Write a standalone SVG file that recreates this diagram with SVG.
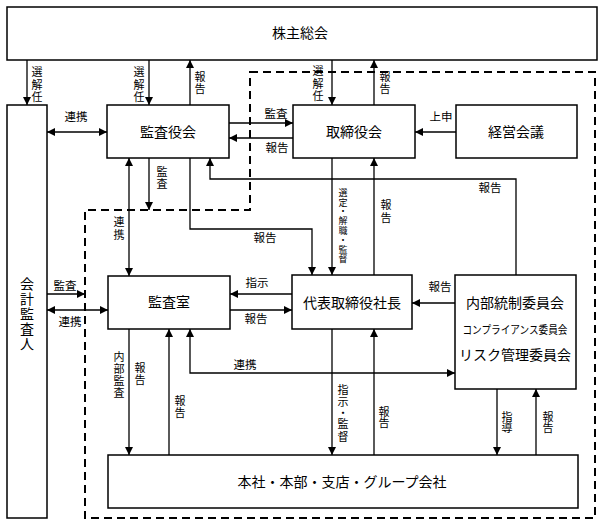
<svg xmlns="http://www.w3.org/2000/svg" width="603" height="525" viewBox="0 0 603 525">
<style>
.box{fill:#fff;stroke:#000;stroke-width:1.5}
.ln{fill:none;stroke:#000;stroke-width:1.3}
.t{font-family:"Liberation Serif","Noto Sans CJK JP",serif;fill:#000}
.bt{font-size:14px;text-anchor:middle}
.lb{font-size:11.5px;text-anchor:middle}
.vt{font-size:11px;text-anchor:middle}
</style>
<defs>
<marker id="ah" viewBox="0 0 10 10" refX="10" refY="5" markerWidth="8" markerHeight="8" markerUnits="userSpaceOnUse" orient="auto-start-reverse">
<path d="M0,0 L10,5 L0,10 z" fill="#000"/>
</marker>
</defs>
<rect width="603" height="525" fill="#fff"/>
<path d="M250,72 H595 V518 H85 V210 H250 Z" fill="none" stroke="#000" stroke-width="2" stroke-dasharray="8,5"/>

<g id="shareholders"><rect class="box" x="7" y="7" width="590" height="53"/><text class="t bt" x="300" y="38">株主総会</text></g>
<g id="auditor"><rect class="box" x="7" y="105" width="40" height="413"/>
<text class="t bt"><tspan x="27" y="289">会</tspan><tspan x="27" y="304">計</tspan><tspan x="27" y="319">監</tspan><tspan x="27" y="334">査</tspan><tspan x="27" y="349">人</tspan></text></g>
<g id="kansayakukai"><rect class="box" x="107" y="105" width="122" height="53"/><text class="t bt" x="168" y="137">監査役会</text></g>
<g id="torishimariyakukai"><rect class="box" x="293" y="105" width="122" height="53"/><text class="t bt" x="354" y="137">取締役会</text></g>
<g id="keieikaigi"><rect class="box" x="456" y="105" width="121" height="53"/><text class="t bt" x="516" y="137">経営会議</text></g>
<g id="kansashitsu"><rect class="box" x="108" y="276" width="122" height="53"/><text class="t bt" x="169" y="307">監査室</text></g>
<g id="president"><rect class="box" x="292" y="275" width="120" height="54"/><text class="t bt" x="352" y="308">代表取締役社長</text></g>
<g id="committees"><rect class="box" x="455" y="275" width="121" height="114"/>
<text class="t bt" x="515" y="308">内部統制委員会</text>
<text class="t" x="515" y="334" font-size="11" text-anchor="middle" textLength="105" lengthAdjust="spacingAndGlyphs">コンプライアンス委員会</text>
<text class="t bt" x="515" y="360">リスク管理委員会</text></g>
<g id="group"><rect class="box" x="108" y="455" width="470" height="53"/><text class="t bt" x="342" y="487">本社・本部・支店・グループ会社</text></g>

<g id="connectors">
<path class="ln" d="M27,60 V105" marker-end="url(#ah)"/>
<path class="ln" d="M149,60 V105" marker-end="url(#ah)"/>
<path class="ln" d="M190,105 V60" marker-end="url(#ah)"/>
<path class="ln" d="M332,60 V105" marker-end="url(#ah)"/>
<path class="ln" d="M374,105 V60" marker-end="url(#ah)"/>
<path class="ln" d="M47,132 H107" marker-start="url(#ah)" marker-end="url(#ah)"/>
<path class="ln" d="M229,123 H293" marker-end="url(#ah)"/>
<path class="ln" d="M293,138 H229" marker-end="url(#ah)"/>
<path class="ln" d="M456,132 H415" marker-end="url(#ah)"/>
<path class="ln" d="M129,158 V276" marker-start="url(#ah)" marker-end="url(#ah)"/>
<path class="ln" d="M149,158 V210" marker-end="url(#ah)"/>
<path class="ln" d="M190,158 V229 H312 V275" marker-end="url(#ah)"/>
<path class="ln" d="M516,275 V179 H210 V158" marker-end="url(#ah)"/>
<path class="ln" d="M332,158 V275" marker-end="url(#ah)"/>
<path class="ln" d="M374,275 V158" marker-end="url(#ah)"/>
<path class="ln" d="M292,294 H230" marker-end="url(#ah)"/>
<path class="ln" d="M230,310 H292" marker-end="url(#ah)"/>
<path class="ln" d="M455,303 H412" marker-end="url(#ah)"/>
<path class="ln" d="M47,294 H85" marker-end="url(#ah)"/>
<path class="ln" d="M47,310 H108" marker-start="url(#ah)" marker-end="url(#ah)"/>
<path class="ln" d="M129,329 V455" marker-end="url(#ah)"/>
<path class="ln" d="M169,455 V329" marker-end="url(#ah)"/>
<path class="ln" d="M455,373 H190 V329" marker-start="url(#ah)" marker-end="url(#ah)"/>
<path class="ln" d="M332,329 V455" marker-end="url(#ah)"/>
<path class="ln" d="M374,455 V329" marker-end="url(#ah)"/>
<path class="ln" d="M497,389 V455" marker-end="url(#ah)"/>
<path class="ln" d="M536,455 V389" marker-end="url(#ah)"/>
</g>

<g id="labels" class="t">
<text class="vt"><tspan x="37" y="76">選</tspan><tspan x="37" y="88.5">解</tspan><tspan x="37" y="101">任</tspan></text>
<text class="vt"><tspan x="139" y="76">選</tspan><tspan x="139" y="88.5">解</tspan><tspan x="139" y="101">任</tspan></text>
<text class="vt"><tspan x="200" y="81">報</tspan><tspan x="200" y="93">告</tspan></text>
<text class="vt"><tspan x="318" y="75">選</tspan><tspan x="318" y="87.5">解</tspan><tspan x="318" y="100">任</tspan></text>
<text class="vt"><tspan x="385" y="81">報</tspan><tspan x="385" y="93">告</tspan></text>
<text class="lb" x="76" y="121">連携</text>
<text class="lb" x="276" y="118">監査</text>
<text class="lb" x="277" y="152">報告</text>
<text class="lb" x="441" y="121">上申</text>
<text class="vt"><tspan x="162" y="176">監</tspan><tspan x="162" y="188">査</tspan></text>
<text class="vt"><tspan x="119" y="226">連</tspan><tspan x="119" y="239">携</tspan></text>
<text class="lb" x="265" y="242">報告</text>
<text class="lb" x="490" y="192">報告</text>
<text font-size="9" text-anchor="middle"><tspan x="343" y="196">選</tspan><tspan x="343" y="205.5">定</tspan><tspan x="343" y="214">・</tspan><tspan x="343" y="224">解</tspan><tspan x="343" y="233.5">職</tspan><tspan x="343" y="243">・</tspan><tspan x="343" y="252.5">監</tspan><tspan x="343" y="262">督</tspan></text>
<text class="vt"><tspan x="386" y="209">報</tspan><tspan x="386" y="222">告</tspan></text>
<text class="lb" x="257" y="287">指示</text>
<text class="lb" x="256" y="323">報告</text>
<text class="lb" x="440" y="291">報告</text>
<text class="lb" x="65" y="290">監査</text>
<text class="lb" x="70" y="326">連携</text>
<text class="vt"><tspan x="119" y="361">内</tspan><tspan x="119" y="373">部</tspan><tspan x="119" y="385">監</tspan><tspan x="119" y="397">査</tspan></text>
<text class="vt"><tspan x="140" y="372">報</tspan><tspan x="140" y="384">告</tspan></text>
<text class="vt"><tspan x="180" y="405">報</tspan><tspan x="180" y="417">告</tspan></text>
<text class="lb" x="245" y="369">連携</text>
<text class="vt"><tspan x="343" y="394">指</tspan><tspan x="343" y="406">示</tspan><tspan x="343" y="417">・</tspan><tspan x="343" y="428">監</tspan><tspan x="343" y="441">督</tspan></text>
<text class="vt"><tspan x="384" y="416">報</tspan><tspan x="384" y="427">告</tspan></text>
<text class="vt"><tspan x="507" y="421">指</tspan><tspan x="507" y="432">導</tspan></text>
<text class="vt"><tspan x="548" y="421">報</tspan><tspan x="548" y="432">告</tspan></text>
</g>
</svg>
